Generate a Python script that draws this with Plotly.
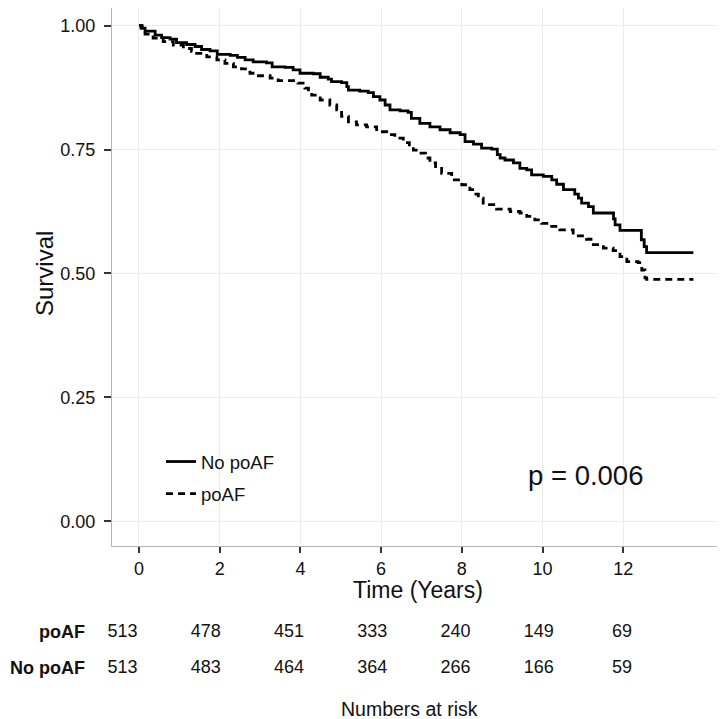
import plotly.graph_objects as go

# ---- Data ----
t_no_poaf = [0, 0.05, 0.15, 0.40, 0.56, 0.77, 0.93, 1.18, 1.39, 1.55, 1.76, 1.94, 2.26, 2.44, 2.63,
             2.83, 3.16, 3.30, 3.62, 3.82, 3.99, 4.32, 4.49, 4.69, 4.77, 5.02, 5.15, 5.19, 5.47,
             5.68, 5.81, 5.97, 6.10, 6.22, 6.47, 6.67, 6.75, 6.96, 7.21, 7.46, 7.71, 7.96, 8.08,
             8.29, 8.49, 8.74, 8.88, 8.95, 9.07, 9.28, 9.44, 9.61, 9.73, 10.02, 10.23, 10.35,
             10.52, 10.80, 10.89, 10.97, 11.14, 11.26, 11.76, 11.80, 11.92, 12.45, 12.52, 12.58, 13.74]
s_no_poaf = [1.0, 0.995, 0.989, 0.981, 0.976, 0.973, 0.966, 0.962, 0.958, 0.952, 0.949, 0.942, 0.940,
             0.936, 0.931, 0.927, 0.925, 0.917, 0.916, 0.911, 0.904, 0.903, 0.896, 0.892, 0.887,
             0.885, 0.877, 0.870, 0.868, 0.865, 0.857, 0.850, 0.840, 0.830, 0.828, 0.825, 0.813,
             0.803, 0.796, 0.790, 0.784, 0.780, 0.766, 0.761, 0.753, 0.751, 0.740, 0.733, 0.729,
             0.723, 0.712, 0.709, 0.699, 0.696, 0.689, 0.680, 0.669, 0.660, 0.652, 0.642, 0.635,
             0.622, 0.610, 0.598, 0.587, 0.568, 0.554, 0.542, 0.542]

t_poaf = [0, 0.08, 0.15, 0.35, 0.60, 0.85, 1.10, 1.30, 1.43, 1.68, 1.93, 2.13, 2.34, 2.54, 2.75,
          2.96, 3.25, 3.45, 3.94, 4.11, 4.20, 4.28, 4.49, 4.73, 4.90, 5.02, 5.19, 5.39, 5.64, 5.89,
          6.14, 6.34, 6.55, 6.70, 6.80, 6.92, 7.10, 7.21, 7.35, 7.50, 7.75, 8.00, 8.20, 8.35, 8.41,
          8.53, 8.86, 9.20, 9.44, 9.61, 9.81, 9.98, 10.19, 10.43, 10.76, 11.09, 11.26, 11.51, 11.75,
          11.92, 12.09, 12.37, 12.46, 12.54, 12.58, 13.74]
s_poaf = [1.0, 0.990, 0.983, 0.975, 0.968, 0.961, 0.954, 0.948, 0.944, 0.937, 0.931, 0.924, 0.917,
          0.913, 0.904, 0.899, 0.894, 0.889, 0.884, 0.874, 0.867, 0.860, 0.850, 0.840, 0.830, 0.817,
          0.806, 0.800, 0.796, 0.786, 0.780, 0.773, 0.764, 0.756, 0.749, 0.743, 0.733, 0.723, 0.712,
          0.702, 0.689, 0.679, 0.669, 0.660, 0.652, 0.639, 0.630, 0.625, 0.622, 0.615, 0.608, 0.601,
          0.595, 0.588, 0.576, 0.569, 0.558, 0.551, 0.546, 0.534, 0.524, 0.522, 0.507, 0.491, 0.488,
          0.488]

risk_times = [0, 2, 4, 6, 8, 10, 12]
risk_poaf = [513, 478, 451, 333, 240, 149, 69]
risk_no_poaf = [513, 483, 464, 364, 266, 166, 59]
risk_rows = ["No poAF", "poAF"]

x_ticks = [0, 2, 4, 6, 8, 10, 12]
y_ticks = [0, 0.25, 0.5, 0.75, 1.0]
y_ticklabels = ["0.00", "0.25", "0.50", "0.75", "1.00"]

FONT = "Liberation Sans, Arial, Helvetica, sans-serif"
OFF = 8                      # page body margin
W, H = 725 - OFF, 719 - OFF

fig = go.Figure()

fig.add_trace(go.Scatter(
    x=t_no_poaf, y=s_no_poaf, mode="lines", line=dict(shape="hv", color="black", width=2.8),
    name="No poAF", legendgroup="a", xaxis="x", yaxis="y"))
fig.add_trace(go.Scatter(
    x=t_poaf, y=s_poaf, mode="lines", line=dict(shape="hv", color="black", width=2.8, dash="7px,5px"),
    name="poAF", legendgroup="b", xaxis="x", yaxis="y"))

# risk table
fig.add_trace(go.Scatter(
    x=risk_times + risk_times,
    y=[1] * len(risk_times) + [0] * len(risk_times),
    text=[str(v) for v in risk_poaf] + [str(v) for v in risk_no_poaf],
    mode="text", textfont=dict(family=FONT, size=18, color="#111"), cliponaxis=False,
    showlegend=False, xaxis="x2", yaxis="y2", hoverinfo="skip"))

px = lambda v: (v - OFF) / W
py = lambda v: (H - (v - OFF)) / H

fig.update_layout(
    width=W, height=H,
    margin=dict(l=0, r=0, t=0, b=0),
    paper_bgcolor="white", plot_bgcolor="white",
    font=dict(family=FONT, color="#111"),
    showlegend=True,
    legend=dict(x=px(161), y=py(443), xanchor="left", yanchor="top",
                font=dict(size=18.5, family=FONT, color="#111"),
                bgcolor="rgba(0,0,0,0)", tracegroupgap=5, traceorder="grouped"),
    xaxis=dict(domain=[px(112), px(724)], range=[-0.669, 14.498],
               tickvals=x_ticks, ticks="outside", ticklen=6, tickwidth=1.5, tickcolor="#333",
               showgrid=True, gridcolor="#ebebeb", gridwidth=1, zeroline=False,
               showline=True, linecolor="#b3b3b3", linewidth=1, mirror=True,
               tickfont=dict(size=18, family=FONT, color="#111"), anchor="y", automargin=False),
    yaxis=dict(domain=[py(546), 1.0], range=[-0.05, 1.0357],
               tickvals=y_ticks, ticktext=y_ticklabels, ticks="outside", ticklen=7, tickwidth=1.5,
               tickcolor="#333", showgrid=True, gridcolor="#ebebeb", gridwidth=1, zeroline=False,
               showline=True, linecolor="#b3b3b3", linewidth=1, mirror=True, ticklabelstandoff=5,
               tickfont=dict(size=18, family=FONT, color="#111"), anchor="x", automargin=False),
    xaxis2=dict(domain=[px(112), px(724)], range=[-0.252, 14.45], anchor="y2",
                showticklabels=False, showgrid=False, zeroline=False, showline=False, ticks="",
                automargin=False),
    yaxis2=dict(domain=[py(686), py(614)], range=[-0.5, 1.5], anchor="x2",
                tickvals=[0, 1], ticktext=["<b>" + r + "</b>" for r in risk_rows],
                showgrid=False, zeroline=False, showline=False, ticks="", automargin=False,
                ticklabelstandoff=26, tickfont=dict(size=18, family=FONT, color="#111")),
    annotations=[
        dict(text="Survival", x=px(44), y=py(274), xref="paper", yref="paper",
             xanchor="center", yanchor="middle",
             textangle=-90, showarrow=False, font=dict(size=24, family=FONT, color="#111")),
        dict(text="Time (Years)", x=px(418), y=py(590), xref="paper", yref="paper",
             xanchor="center", yanchor="middle",
             showarrow=False, font=dict(size=23, family=FONT, color="#111")),
        dict(text="p = 0.006", x=px(585), y=py(475), xref="paper", yref="paper",
             xanchor="center", yanchor="middle",
             showarrow=False, font=dict(size=27.5, family=FONT, color="#111")),
        dict(text="Numbers at risk", x=px(409), y=py(709), xref="paper", yref="paper",
             xanchor="center", yanchor="middle",
             showarrow=False, font=dict(size=19.5, family=FONT, color="#111")),
    ],
)

fig.write_html("out.html")
